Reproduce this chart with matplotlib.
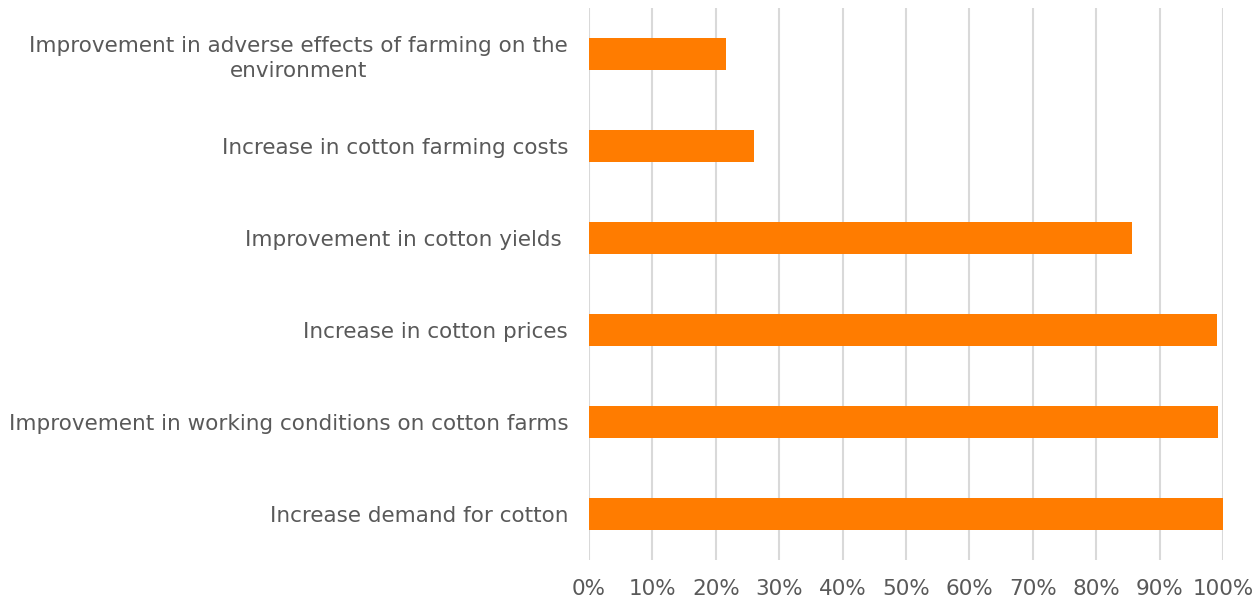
import matplotlib
matplotlib.use("Agg")
import matplotlib.pyplot as plt
from matplotlib.ticker import PercentFormatter

# Categories from bottom to top
categories = [
    "Increase demand for cotton",
    "Improvement in working conditions on cotton farms",
    "Increase in cotton prices",
    "Improvement in cotton yields ",
    "Increase in cotton farming costs",
    "Improvement in adverse effects of farming on the\nenvironment",
]
values = [1.00, 0.992, 0.991, 0.856, 0.261, 0.216]
x_ticks = [0, 0.1, 0.2, 0.3, 0.4, 0.5, 0.6, 0.7, 0.8, 0.9, 1.0]

text_color = "#595959"
bar_color = "#ff7c00"
grid_color = "#d9d9d9"

plt.rcParams['font.family'] = ['DejaVu Sans']

fig = plt.figure(figsize=(12.55, 6), dpi=100)
ax = fig.add_axes([589 / 1255, 40 / 600, (1223 - 589) / 1255, 552 / 600])

ypos = list(range(len(categories)))
ax.barh(ypos, values, height=0.35, color=bar_color, zorder=3)

ax.set_xlim(0, 1)
ax.set_ylim(-0.5, len(categories) - 0.5)
ax.set_xticks(x_ticks)
ax.xaxis.set_major_formatter(PercentFormatter(1.0, decimals=0))
ax.set_yticks(ypos)
ax.set_yticklabels(categories, multialignment="center", linespacing=1.3)

ax.grid(axis="x", color=grid_color, linewidth=1.5, zorder=0)
for s in ax.spines.values():
    s.set_visible(False)

ax.tick_params(axis="both", length=0, colors=text_color, labelsize=15.5)
ax.tick_params(axis="x", pad=14)
ax.tick_params(axis="y", pad=15)

fig.savefig("out.png", dpi=100)
